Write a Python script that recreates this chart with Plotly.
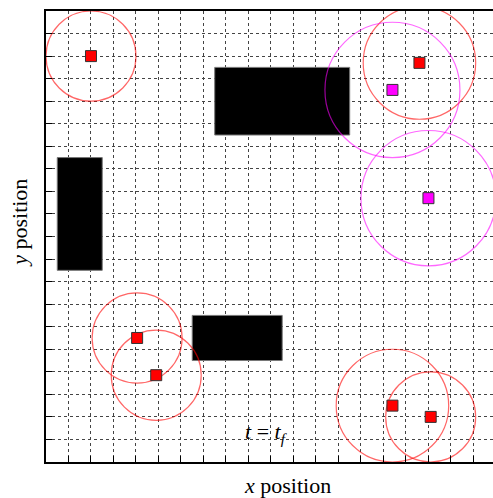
import plotly.graph_objects as go

# Agents (red) with sensing radii
red_x = [2.0, 16.6, 4.05, 4.9, 15.4, 17.1]
red_y = [18.0, 17.7, 5.5, 3.85, 2.5, 2.0]
red_r = [2.0, 2.5, 2.0, 2.0, 2.5, 2.0]

# Targets (magenta) with radii
mag_x = [15.4, 17.0]
mag_y = [16.5, 11.7]
mag_r = [3.0, 3.0]

# Obstacles (black rectangles)
obs_x0 = [7.5, 0.5, 6.5]
obs_x1 = [13.5, 2.5, 10.5]
obs_y0 = [14.5, 8.5, 4.5]
obs_y1 = [17.5, 13.5, 6.5]

grid_ticks = list(range(0, 21))

SERIF = "Liberation Serif, Times New Roman, serif"

fig = go.Figure()

shapes = []
for x0, x1, y0, y1 in zip(obs_x0, obs_x1, obs_y0, obs_y1):
    shapes.append(dict(type="rect", xref="x", yref="y", x0=x0, x1=x1, y0=y0, y1=y1,
                       fillcolor="black", line=dict(color="#777", width=1), layer="between"))
for cx, cy, r in zip(red_x, red_y, red_r):
    shapes.append(dict(type="circle", xref="x", yref="y", x0=cx - r, x1=cx + r, y0=cy - r, y1=cy + r,
                       line=dict(color="rgba(255,0,0,0.6)", width=1.2), fillcolor="rgba(0,0,0,0)",
                       layer="between"))
for cx, cy, r in zip(mag_x, mag_y, mag_r):
    shapes.append(dict(type="circle", xref="x", yref="y", x0=cx - r, x1=cx + r, y0=cy - r, y1=cy + r,
                       line=dict(color="rgba(255,0,255,0.6)", width=1.2), fillcolor="rgba(0,0,0,0)",
                       layer="between"))

fig.add_trace(go.Scatter(x=red_x, y=red_y, mode="markers",
                         marker=dict(symbol="square", size=11, color="#ff0000",
                                     line=dict(color="#333", width=1)),
                         showlegend=False, hoverinfo="skip"))
fig.add_trace(go.Scatter(x=mag_x, y=mag_y, mode="markers",
                         marker=dict(symbol="square", size=11, color="#ff00ff",
                                     line=dict(color="#333", width=1)),
                         showlegend=False, hoverinfo="skip"))

axis_common = dict(
    tickmode="array", tickvals=grid_ticks, showticklabels=False,
    ticks="inside", ticklen=6, tickcolor="black", tickwidth=1,
    showgrid=True, gridcolor="#444", gridwidth=1, griddash="3px,3px",
    zeroline=False, showline=True, linecolor="black", linewidth=2,
)

fig.update_xaxes(range=[0, 19.87], mirror=True, **axis_common)
fig.update_yaxes(range=[0, 20], mirror=False, **axis_common)

fig.update_layout(
    width=493, height=498,
    margin=dict(l=46, r=0, t=11, b=36),
    plot_bgcolor="white", paper_bgcolor="white",
    shapes=shapes,
    annotations=[
        dict(text="<i>t</i> = <i>t</i><sub><i>f</i></sub>", xref="x", yref="y", x=9.82, y=1.29,
             showarrow=False, font=dict(family=SERIF, size=22, color="black")),
        dict(text="<i>x</i> position", xref="x", yref="paper", x=10.72, y=0,
             yanchor="top", yshift=-9, showarrow=False,
             font=dict(family=SERIF, size=22, color="black")),
        dict(text="<i>y</i> position", xref="paper", yref="y", x=0, y=10.63,
             xanchor="right", xshift=-12, textangle=-90, showarrow=False,
             font=dict(family=SERIF, size=22, color="black")),
    ],
)

fig.write_html("out.html", config={"displayModeBar": False},
               post_script="document.body.style.margin='0';document.body.style.overflow='hidden';")
